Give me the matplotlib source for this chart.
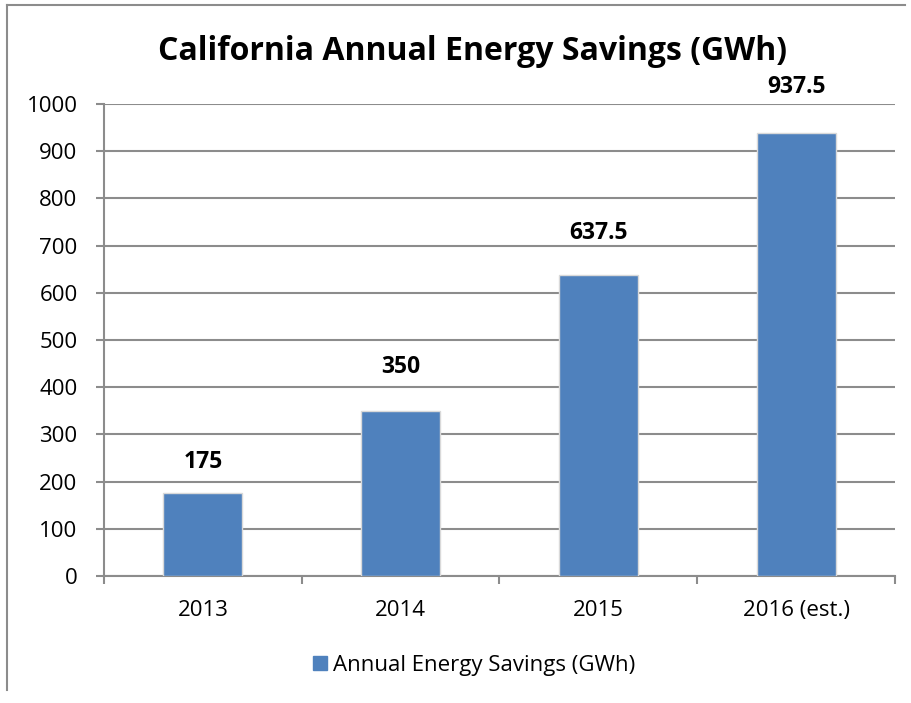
import matplotlib.pyplot as plt
import numpy as np
from matplotlib.lines import Line2D

# data
categories = ['2013', '2014', '2015', '2016 (est.)']
savings = [175, 350, 637.5, 937.5]
label_text = ['175', '350', '637.5', '937.5']

W, H = 911, 703
fig = plt.figure(figsize=(W / 100, H / 100), dpi=100)
plt.rcParams['font.family'] = ['Open Sans', 'DejaVu Sans']

# axes box in pixel coords
x0, x1 = 104, 895
y0, y1 = 576, 104
ax = fig.add_axes([x0 / W, 1 - y0 / H, (x1 - x0) / W, (y0 - y1) / H])

grey = '#8c8c8c'
x = np.arange(len(categories))
ax.bar(x, savings, width=0.4, color='#4F81BD', edgecolor='#d9d9d9',
       linewidth=1.0, zorder=3)

# label gap above bar top, in points
gaps = [14, 23, 22, 25]
for xi, v, t, g in zip(x, savings, label_text, gaps):
    ax.annotate(t, (xi, v), xytext=(0, g), textcoords='offset points',
                ha='center', va='bottom', fontsize=16.5, fontweight='bold',
                color='black')

ax.set_xlim(-0.5, len(categories) - 0.5)
ax.set_ylim(0, 1000)
ax.set_yticks(np.arange(0, 1001, 100))
ax.yaxis.grid(True, color=grey, linewidth=1.5, zorder=0)
ax.set_axisbelow(True)

ax.set_xticks(x)
ax.set_xticklabels(categories, fontsize=16)
ax.tick_params(axis='x', length=0, pad=17)
ax.set_xticks(np.arange(-0.5, len(categories)), minor=True)
ax.tick_params(axis='x', which='minor', length=6, width=1.5, color=grey)
ax.tick_params(axis='y', length=6, width=1.5, color=grey, labelsize=16, pad=13)

for s in ['top', 'right']:
    ax.spines[s].set_visible(False)
for s in ['left', 'bottom']:
    ax.spines[s].set_color(grey)
    ax.spines[s].set_linewidth(1.5)

fig.text(472 / W, 1 - 51 / H, 'California Annual Energy Savings (GWh)',
         ha='center', va='center', fontsize=23, fontweight='bold')

# legend
handle = Line2D([], [], marker='s', linestyle='none', markersize=10,
                markerfacecolor='#4F81BD', markeredgecolor='#4F81BD')
fig.legend([handle], ['Annual Energy Savings (GWh)'], loc='center',
           bbox_to_anchor=(472 / W, 1 - 665 / H), frameon=False,
           fontsize=16, handletextpad=0.1, handlelength=1.0)

# outer border (top and left only)
fig.add_artist(Line2D([7 / W, 905 / W], [1 - 5 / H, 1 - 5 / H],
                      color=grey, linewidth=1.5, transform=fig.transFigure))
fig.add_artist(Line2D([7 / W, 7 / W], [1 - 5 / H, 1 - 690 / H],
                      color=grey, linewidth=1.5, transform=fig.transFigure))

fig.savefig('out.png', dpi=100)
